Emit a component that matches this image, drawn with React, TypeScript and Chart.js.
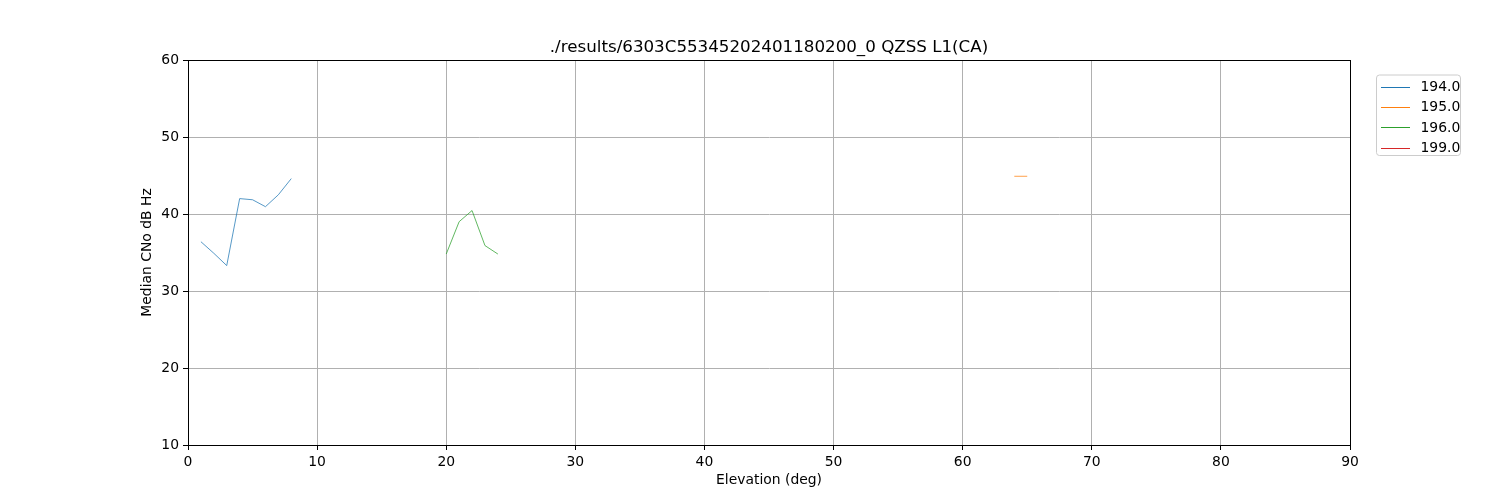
import React, { useEffect, useRef } from "react";
import { Chart, registerables } from "chart.js";

Chart.register(...registerables);

const TITLE = "./results/6303C55345202401180200_0 QZSS L1(CA)";
const X_LABEL = "Elevation (deg)";
const Y_LABEL = "Median CNo dB Hz";
const SERIES_LABELS = ["194.0", "195.0", "196.0", "199.0"];
const SERIES_COLORS = ["#1f77b4", "#ff7f0e", "#2ca02c", "#d62728"];

const elev194 = [1, 2, 3, 4, 5, 6, 7, 8];
const cno194 = [36.4, 34.9, 33.3, 42.0, 41.85, 40.95, 42.5, 44.6];
const elev195 = [64, 65];
const cno195 = [44.9, 44.9];
const elev196 = [20, 21, 22, 23, 24];
const cno196 = [34.8, 39.0, 40.45, 35.9, 34.8];
const elev199: number[] = [];
const cno199: number[] = [];

const X_TICKS = [0, 10, 20, 30, 40, 50, 60, 70, 80, 90];
const Y_TICKS = [10, 20, 30, 40, 50, 60];

const FONT = "'DejaVu Sans', sans-serif";

const framePlugin = {
  id: "frameAndLegend",
  afterDraw(chart: any) {
    const { ctx, chartArea } = chart;
    const { left, right, top, bottom } = chartArea;
    ctx.save();
    ctx.strokeStyle = "#000";
    ctx.lineWidth = 1;
    ctx.strokeRect(Math.round(left) + 0.5, Math.round(top) + 0.5, Math.round(right - left), Math.round(bottom - top));

    // title centred over the plot area
    ctx.font = `16.7px ${FONT}`;
    ctx.fillStyle = "#000";
    ctx.textAlign = "center";
    ctx.textBaseline = "alphabetic";
    ctx.fillText(TITLE, (left + right) / 2, top - 8.5);

    // legend
    const bx = 1376.5, by = 75, bw = 84, bh = 80.5, r = 3;
    ctx.beginPath();
    ctx.moveTo(bx + r, by);
    ctx.lineTo(bx + bw - r, by);
    ctx.quadraticCurveTo(bx + bw, by, bx + bw, by + r);
    ctx.lineTo(bx + bw, by + bh - r);
    ctx.quadraticCurveTo(bx + bw, by + bh, bx + bw - r, by + bh);
    ctx.lineTo(bx + r, by + bh);
    ctx.quadraticCurveTo(bx, by + bh, bx, by + bh - r);
    ctx.lineTo(bx, by + r);
    ctx.quadraticCurveTo(bx, by, bx + r, by);
    ctx.closePath();
    ctx.fillStyle = "rgba(255,255,255,0.8)";
    ctx.fill();
    ctx.strokeStyle = "#cccccc";
    ctx.lineWidth = 1;
    ctx.stroke();

    ctx.font = `13.9px ${FONT}`;
    ctx.textBaseline = "middle";
    ctx.textAlign = "left";
    chart.data.datasets.forEach((ds: any, i: number) => {
      const y = 86.5 + i * 20.35;
      ctx.beginPath();
      ctx.strokeStyle = ds.borderColor;
      ctx.lineWidth = 1;
      ctx.moveTo(1381, Math.round(y) + 0.5);
      ctx.lineTo(1410, Math.round(y) + 0.5);
      ctx.stroke();
      ctx.fillStyle = "#000";
      ctx.fillText(ds.label, 1420.5, y + 1);
    });
    ctx.restore();
  },
};

function toPoints(xs: number[], ys: number[]) {
  return xs.map((x, i) => ({ x, y: ys[i] }));
}

export default function App() {
  const ref = useRef<HTMLCanvasElement | null>(null);

  useEffect(() => {
    if (!ref.current) return;
    const seriesX = [elev194, elev195, elev196, elev199];
    const seriesY = [cno194, cno195, cno196, cno199];
    const chart = new Chart(ref.current, {
      type: "line",
      data: {
        datasets: SERIES_LABELS.map((label, i) => ({
          label,
          data: toPoints(seriesX[i], seriesY[i]),
          borderColor: SERIES_COLORS[i],
          backgroundColor: SERIES_COLORS[i],
          borderWidth: 0.75,
          pointRadius: 0,
          fill: false,
          tension: 0,
        })),
      },
      options: {
        animation: false,
        responsive: false,
        maintainAspectRatio: false,
        devicePixelRatio: 1,
        layout: { padding: { left: 0, right: 150, top: 60, bottom: 0 } },
        plugins: {
          legend: { display: false },
          tooltip: { enabled: false },
          title: { display: false },
        },
        scales: {
          x: {
            type: "linear",
            min: 0,
            max: 90,
            afterBuildTicks: (scale: any) => {
              scale.ticks = X_TICKS.map((v) => ({ value: v }));
            },
            afterFit: (scale: any) => {
              scale.height = 55;
            },
            ticks: {
              color: "#000",
              font: { family: FONT, size: 13.9 },
              padding: 4,
              maxRotation: 0,
              callback: (v: any) => String(v),
            },
            grid: {
              color: "#b0b0b0",
              lineWidth: 1,
              tickColor: "#000",
              tickLength: 5,
              drawTicks: true,
            },
            border: { color: "#000", width: 1 },
            title: {
              display: true,
              text: X_LABEL,
              color: "#000",
              font: { family: FONT, size: 13.9 },
              padding: { top: 0, bottom: 11.5 },
            },
          },
          y: {
            type: "linear",
            min: 10,
            max: 60,
            afterBuildTicks: (scale: any) => {
              scale.ticks = Y_TICKS.map((v) => ({ value: v }));
            },
            afterFit: (scale: any) => {
              scale.width = 188;
            },
            ticks: {
              color: "#000",
              font: { family: FONT, size: 13.9 },
              padding: 4,
              callback: (v: any) => String(v),
            },
            grid: {
              color: "#b0b0b0",
              lineWidth: 1,
              tickColor: "#000",
              tickLength: 5,
              drawTicks: true,
            },
            border: { color: "#000", width: 1 },
            title: {
              display: true,
              text: Y_LABEL,
              color: "#000",
              font: { family: FONT, size: 13.9 },
              padding: { top: 139, bottom: 0 },
            },
          },
        },
      },
      plugins: [framePlugin],
    } as any);
    return () => chart.destroy();
  }, []);

  return (
    <div style={{ position: "absolute", left: 0, top: 0, width: 1500, height: 500, background: "#fff" }}>
      <canvas ref={ref} width={1500} height={500} style={{ width: 1500, height: 500, display: "block" }} />
    </div>
  );
}
